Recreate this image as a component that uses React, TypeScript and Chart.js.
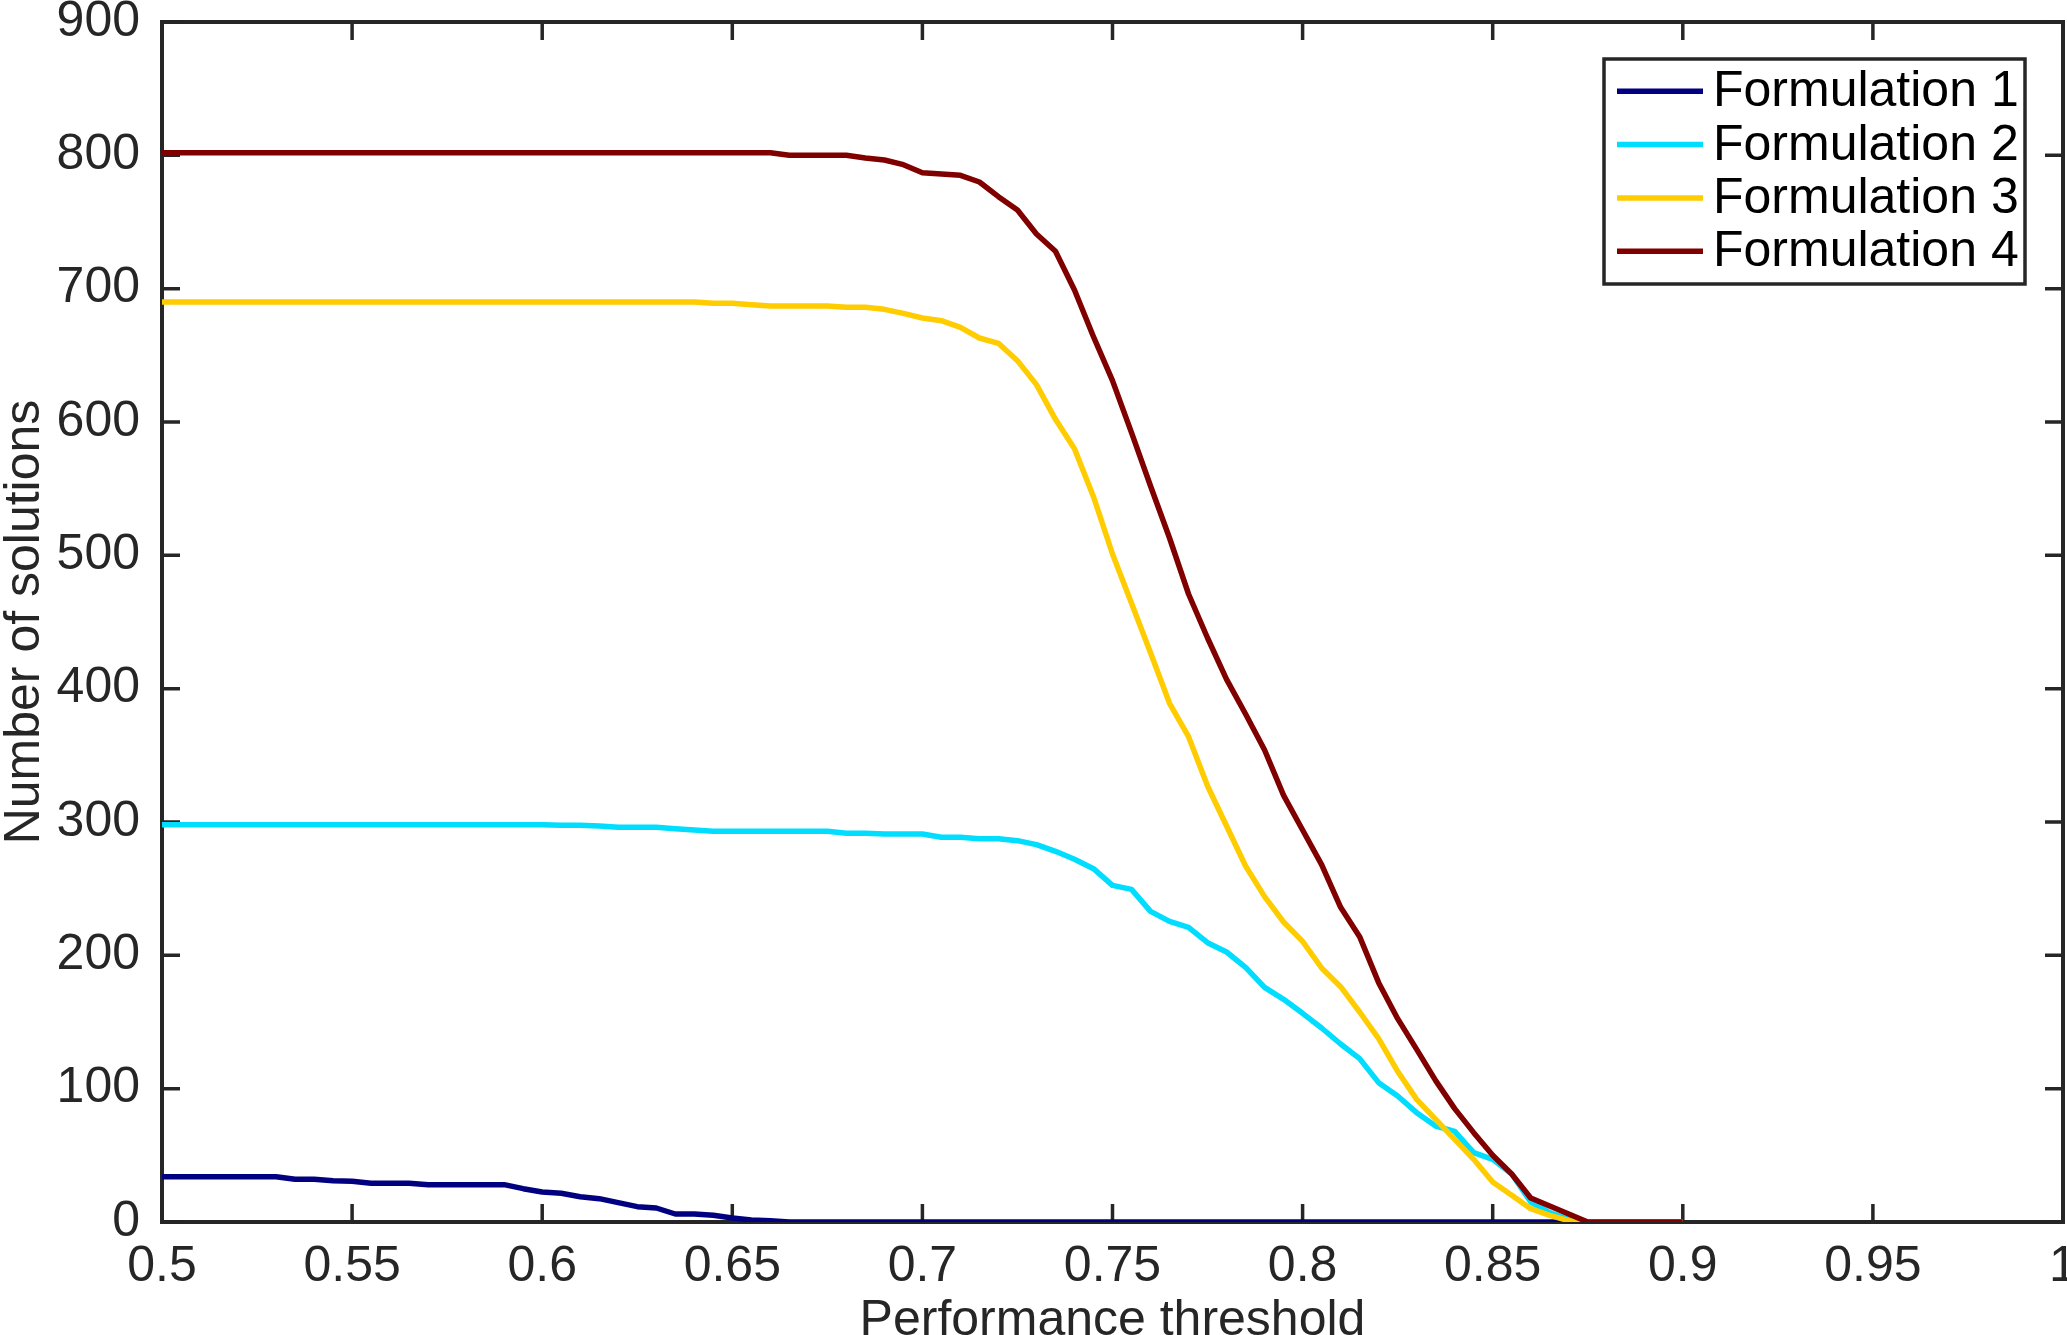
import React, { useEffect, useRef } from "react";
import { Chart, registerables } from "chart.js";

Chart.register(...registerables);

// ---------- data ----------
const thresholds = [
  0.5, 0.505, 0.51, 0.515, 0.52, 0.525, 0.53, 0.535, 0.54, 0.545,
  0.55, 0.555, 0.56, 0.565, 0.57, 0.575, 0.58, 0.585, 0.59, 0.595,
  0.6, 0.605, 0.61, 0.615, 0.62, 0.625, 0.63, 0.635, 0.64, 0.645,
  0.65, 0.655, 0.66, 0.665, 0.67, 0.675, 0.68, 0.685, 0.69, 0.695,
  0.7, 0.705, 0.71, 0.715, 0.72, 0.725, 0.73, 0.735, 0.74, 0.745,
  0.75, 0.755, 0.76, 0.765, 0.77, 0.775, 0.78, 0.785, 0.79, 0.795,
  0.8, 0.805, 0.81, 0.815, 0.82, 0.825, 0.83, 0.835, 0.84, 0.845,
  0.85, 0.855, 0.86, 0.865, 0.87, 0.875, 0.88, 0.885, 0.89, 0.895,
  0.9,
];

const formulation1 = [
  34, 34, 34, 34, 34, 34, 34, 32, 32, 31,
  30.5, 29, 29, 29, 28, 28, 28, 28, 28, 25,
  22.5, 21.5, 19, 17.5, 14.5, 11.5, 10.5, 6, 6, 5,
  3, 1.5, 1, 0, 0, 0, 0, 0, 0, 0,
  0, 0, 0, 0, 0, 0, 0, 0, 0, 0,
  0, 0, 0, 0, 0, 0, 0, 0, 0, 0,
  0, 0, 0, 0, 0, 0, 0, 0, 0, 0,
  0, 0, 0, 0, 0, 0, 0, 0, 0, 0,
  0,
];

const formulation2 = [
  298, 298, 298, 298, 298, 298, 298, 298, 298, 298,
  298, 298, 298, 298, 298, 298, 298, 298, 298, 298,
  298, 297.5, 297.5, 297, 296, 296, 296, 295, 294, 293,
  293, 293, 293, 293, 293, 293, 291.5, 291.5, 291, 291,
  291, 288.5, 288.5, 287.5, 287.5, 286, 283, 278, 272, 265,
  252.5, 249.5, 233, 225.5, 221, 209.5, 202.5, 191, 176, 167,
  156.5, 145.5, 133.5, 122.5, 104.5, 94.5, 82, 72, 68, 52,
  47, 36, 15, 7, 2, 0, 0, 0, 0, 0,
  0,
];

const formulation3 = [
  690, 690, 690, 690, 690, 690, 690, 690, 690, 690,
  690, 690, 690, 690, 690, 690, 690, 690, 690, 690,
  690, 690, 690, 690, 690, 690, 690, 690, 690, 689,
  689, 688, 687, 687, 687, 687, 686, 686, 684.5, 681.5,
  678, 676, 671, 663, 659, 646, 628, 602, 580, 544,
  501, 464, 427, 389, 364, 327, 297, 267, 244, 225,
  210.5, 190.5, 176.5, 157.5, 137.5, 113, 92, 77, 62, 47,
  30, 20, 10, 5, 1, 0, 0, 0, 0, 0,
  0,
];

const formulation4 = [
  802, 802, 802, 802, 802, 802, 802, 802, 802, 802,
  802, 802, 802, 802, 802, 802, 802, 802, 802, 802,
  802, 802, 802, 802, 802, 802, 802, 802, 802, 802,
  802, 802, 802, 800, 800, 800, 800, 798, 796.5, 793,
  787, 786, 785, 780, 769, 759, 741, 728, 699, 664,
  631, 592, 552, 513, 471, 438, 407, 381, 354, 320,
  294, 268, 236, 214, 179.5, 152.5, 129.5, 106, 85, 67,
  50, 36, 18, 12, 6, 0, 0, 0, 0, 0,
  0,
];

const seriesLabels = ["Formulation 1", "Formulation 2", "Formulation 3", "Formulation 4"];
const seriesColors = ["#000080", "#00DDFF", "#FFCC00", "#800000"];

const xTickValues = [0.5, 0.55, 0.6, 0.65, 0.7, 0.75, 0.8, 0.85, 0.9, 0.95, 1];
const xTickLabels = ["0.5", "0.55", "0.6", "0.65", "0.7", "0.75", "0.8", "0.85", "0.9", "0.95", "1"];
const yTickValues = [0, 100, 200, 300, 400, 500, 600, 700, 800, 900];
const yTickLabels = ["0", "100", "200", "300", "400", "500", "600", "700", "800", "900"];

const xTitle = "Performance threshold";
const yTitle = "Number of solutions";

// ---------- styling ----------
const W = 2067;
const H = 1335;
const FONT = "'Liberation Sans', Arial, Helvetica, sans-serif";
const AXIS_COLOR = "#262626";
const FONT_SIZE = 50;
const TICK_LEN = 18;
const LINE_W = 5.5;

const frameAndTicks = {
  id: "frameAndTicks",
  beforeDatasetsDraw(chart: any) {
    const { ctx, chartArea, scales } = chart;
    const { left, right, top, bottom } = chartArea;
    ctx.save();
    ctx.strokeStyle = AXIS_COLOR;
    ctx.lineWidth = 4;
    ctx.strokeRect(left, top, right - left, bottom - top);
    ctx.lineWidth = 3.5;
    ctx.beginPath();
    xTickValues.forEach((v) => {
      const px = scales.x.getPixelForValue(v);
      ctx.moveTo(px, bottom);
      ctx.lineTo(px, bottom - TICK_LEN);
      ctx.moveTo(px, top);
      ctx.lineTo(px, top + TICK_LEN);
    });
    yTickValues.forEach((v) => {
      const py = scales.y.getPixelForValue(v);
      ctx.moveTo(left, py);
      ctx.lineTo(left + TICK_LEN, py);
      ctx.moveTo(right, py);
      ctx.lineTo(right - TICK_LEN, py);
    });
    ctx.stroke();
    ctx.restore();
  },
};

const boxedLegend = {
  id: "boxedLegend",
  afterDatasetsDraw(chart: any) {
    const { ctx, chartArea } = chart;
    const boxW = 421;
    const boxH = 225;
    const rowH = 53.3;
    const boxRight = chartArea.right - 38;
    const boxTop = chartArea.top + 37;
    const boxLeft = boxRight - boxW;
    ctx.save();
    ctx.fillStyle = "#ffffff";
    ctx.fillRect(boxLeft, boxTop, boxW, boxH);
    ctx.strokeStyle = AXIS_COLOR;
    ctx.lineWidth = 3.5;
    ctx.strokeRect(boxLeft, boxTop, boxW, boxH);
    ctx.font = `${FONT_SIZE}px ${FONT}`;
    ctx.textBaseline = "alphabetic";
    ctx.textAlign = "left";
    chart.data.datasets.forEach((ds: any, i: number) => {
      const cy = boxTop + 32.3 + i * rowH;
      ctx.strokeStyle = ds.borderColor;
      ctx.lineWidth = LINE_W;
      ctx.beginPath();
      ctx.moveTo(boxLeft + 13, cy);
      ctx.lineTo(boxLeft + 99, cy);
      ctx.stroke();
      ctx.fillStyle = "#000000";
      ctx.fillText(ds.label, boxLeft + 109, cy + 15);
    });
    ctx.restore();
  },
};

function zeroPadding(s: any) {
  s.paddingTop = 0;
  s.paddingBottom = 0;
  s.paddingLeft = 0;
  s.paddingRight = 0;
}

export default function App() {
  const ref = useRef<HTMLCanvasElement>(null);

  useEffect(() => {
    if (!ref.current) return;
    const series = [formulation1, formulation2, formulation3, formulation4];
    const chart = new Chart(ref.current, {
      type: "line",
      data: {
        datasets: series.map((vals, i) => ({
          label: seriesLabels[i],
          data: thresholds.map((t, k) => ({ x: t, y: vals[k] })),
          borderColor: seriesColors[i],
          backgroundColor: seriesColors[i],
          borderWidth: LINE_W,
          pointRadius: 0,
          pointHoverRadius: 0,
          tension: 0,
          fill: false,
          borderJoinStyle: "round",
          borderCapStyle: "butt",
          order: series.length - 1 - i,
        })),
      },
      options: {
        responsive: false,
        animation: false,
        devicePixelRatio: 1,
        events: [],
        layout: { padding: { left: 0, right: 4, top: 22, bottom: 0 } },
        plugins: {
          legend: { display: false },
          tooltip: { enabled: false },
        },
        scales: {
          x: {
            type: "linear",
            min: 0.5,
            max: 1,
            afterBuildTicks: (s: any) => {
              s.ticks = xTickValues.map((v) => ({ value: v }));
            },
            afterFit: (s: any) => {
              s.height = 113;
              zeroPadding(s);
            },
            grid: { display: false, drawTicks: false },
            border: { display: false },
            ticks: {
              padding: 15,
              color: AXIS_COLOR,
              autoSkip: false,
              maxRotation: 0,
              minRotation: 0,
              font: { size: FONT_SIZE, family: FONT },
              callback: (_v: any, idx: number) => xTickLabels[idx],
            },
            title: {
              display: true,
              text: xTitle,
              color: AXIS_COLOR,
              padding: 0,
              font: { size: FONT_SIZE, family: FONT, lineHeight: "28px" },
            },
          },
          y: {
            type: "linear",
            min: 0,
            max: 900,
            afterBuildTicks: (s: any) => {
              s.ticks = yTickValues.map((v) => ({ value: v }));
            },
            afterFit: (s: any) => {
              s.width = 162;
              zeroPadding(s);
            },
            grid: { display: false, drawTicks: false },
            border: { display: false },
            ticks: {
              padding: 22,
              color: AXIS_COLOR,
              autoSkip: false,
              font: { size: FONT_SIZE, family: FONT },
              callback: (_v: any, idx: number) => yTickLabels[idx],
            },
            title: {
              display: true,
              text: yTitle,
              color: AXIS_COLOR,
              padding: 0,
              font: { size: FONT_SIZE, family: FONT, lineHeight: "50px" },
            },
          },
        },
      },
      plugins: [frameAndTicks, boxedLegend],
    } as any);
    return () => chart.destroy();
  }, []);

  return (
    <div style={{ position: "absolute", left: 0, top: 0, width: W, height: H, background: "#ffffff" }}>
      <canvas ref={ref} width={W} height={H} style={{ display: "block", width: W, height: H }} />
    </div>
  );
}
